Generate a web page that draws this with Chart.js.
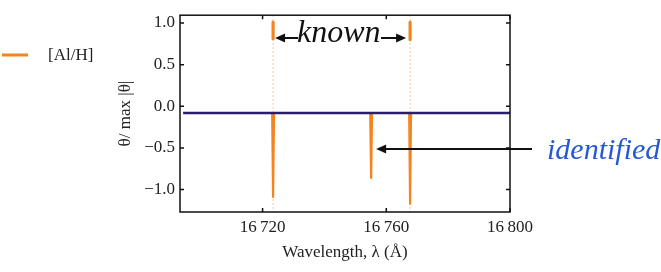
<!DOCTYPE html>
<html>
<head>
<meta charset="utf-8">
<script src="https://cdn.jsdelivr.net/npm/chart.js@4"></script>
<style>
  html, body { margin: 0; padding: 0; background: #fff; }
  #wrap { width: 661px; height: 272px; }
</style>
</head>
<body>
<div id="wrap"><canvas id="chart" width="661" height="272"></canvas></div>
<script>
// axis ranges and ticks
const xRange = [16693.3, 16800];
const yRange = [-1.27, 1.094];
const xTicks = [16720, 16760, 16800];
const xTickLabels = ["16\u2009720", "16\u2009760", "16\u2009800"];
const yTicks = [-1.0, -0.5, 0.0, 0.5, 1.0];
const yTickLabels = ["\u22121.0", "\u22120.5", "0.0", "0.5", "1.0"];

// navy baseline
const baseStart = 16694.3;
const baseLevel = -0.08;

// [Al/H] absorption features (negative dips)
const lineCentres = [16723.4, 16755.1, 16767.7];
const lineDepths = [-1.10, -0.87, -1.18];
const halfWidth = 0.3;

// known lines (positive markers)
const knownCentres = [16723.4, 16767.7];
const knownTops = [1.01, 1.01];
const knownBottoms = [0.81, 0.80];

const orange = "#f5841f";
const navy = "#2a1f6e";

// build the orange series
const spikeData = [];
lineCentres.forEach((c, i) => {
  spikeData.push({ x: c - halfWidth, y: baseLevel });
  spikeData.push({ x: c, y: lineDepths[i] });
  spikeData.push({ x: c + halfWidth, y: baseLevel });
  spikeData.push({ x: c + halfWidth, y: null });
});
const knownData = [];
knownCentres.forEach((c, i) => {
  knownData.push({ x: c, y: knownTops[i] });
  knownData.push({ x: c, y: knownBottoms[i] });
  knownData.push({ x: c, y: null });
});

const dotted = knownCentres.map((c) => ({
  label: "guide",
  data: [{ x: c, y: yRange[1] }, { x: c, y: yRange[0] }],
  borderColor: "rgba(245,132,31,0.6)",
  borderWidth: 1,
  borderDash: [1.5, 2.5],
  pointRadius: 0,
}));

// frame, inward ticks, legend and annotations
const extras = {
  id: "extras",
  afterDatasetsDraw(chart) {
    const { ctx, chartArea: a, scales } = chart;
    const xs = scales.x, ys = scales.y;
    ctx.save();
    ctx.strokeStyle = "#111";
    ctx.lineWidth = 1.5;
    ctx.strokeRect(a.left, a.top, a.right - a.left, a.bottom - a.top);
    ctx.beginPath();
    xTicks.forEach((v) => {
      const px = xs.getPixelForValue(v);
      ctx.moveTo(px, a.bottom); ctx.lineTo(px, a.bottom - 4);
      ctx.moveTo(px, a.top); ctx.lineTo(px, a.top + 4);
    });
    yTicks.forEach((v) => {
      const py = ys.getPixelForValue(v);
      ctx.moveTo(a.left, py); ctx.lineTo(a.left + 4, py);
      ctx.moveTo(a.right, py); ctx.lineTo(a.right - 4, py);
    });
    ctx.stroke();

    // legend
    ctx.strokeStyle = orange;
    ctx.lineWidth = 3;
    ctx.beginPath();
    ctx.moveTo(2, 55); ctx.lineTo(28, 55);
    ctx.stroke();
    ctx.fillStyle = "#222";
    ctx.font = "17px 'Liberation Serif'";
    ctx.textBaseline = "middle";
    ctx.textAlign = "left";
    ctx.fillText(chart.data.datasets[1].label, 48, 56);

    // arrows
    function arrow(x0, y0, x1, y1) {
      const dir = Math.sign(x1 - x0);
      ctx.strokeStyle = "#111";
      ctx.fillStyle = "#111";
      ctx.lineWidth = 2;
      ctx.beginPath();
      ctx.moveTo(x0, y0); ctx.lineTo(x1 - dir * 8, y1);
      ctx.stroke();
      ctx.beginPath();
      ctx.moveTo(x1, y1);
      ctx.lineTo(x1 - dir * 10, y1 - 4.5);
      ctx.lineTo(x1 - dir * 10, y1 + 4.5);
      ctx.closePath();
      ctx.fill();
    }
    const k1 = xs.getPixelForValue(knownCentres[0]);
    const k2 = xs.getPixelForValue(knownCentres[1]);
    const id = xs.getPixelForValue(lineCentres[1]);
    arrow(298, 38, k1 + 2, 38);
    arrow(381, 38, k2 - 4, 38);
    arrow(532, 149, id + 5, 149);

    ctx.fillStyle = "#111";
    ctx.font = "italic 32px 'Liberation Serif'";
    ctx.textAlign = "left";
    ctx.textBaseline = "alphabetic";
    ctx.fillText("known", 297, 42);
    ctx.fillStyle = "#2458d4";
    ctx.font = "italic 30px 'Liberation Serif'";
    ctx.fillText("identified", 547, 159);
    ctx.restore();
  },
};

new Chart(document.getElementById("chart"), {
  type: "line",
  data: {
    datasets: [
      {
        label: "baseline",
        data: [{ x: baseStart, y: baseLevel }, { x: xRange[1], y: baseLevel }],
        borderColor: navy,
        borderWidth: 2.5,
        pointRadius: 0,
      },
      {
        label: "[Al/H]",
        data: spikeData,
        borderColor: orange,
        borderWidth: 2.2,
        pointRadius: 0,
        spanGaps: false,
        borderCapStyle: "butt",
      },
      {
        label: "known",
        data: knownData,
        borderColor: orange,
        borderWidth: 3.2,
        pointRadius: 0,
        spanGaps: false,
        borderCapStyle: "round",
      },
      ...dotted,
    ],
  },
  options: {
    responsive: false,
    animation: false,
    layout: { padding: { left: 115, right: 151, top: 11, bottom: 0 } },
    plugins: { legend: { display: false }, tooltip: { enabled: false } },
    scales: {
      x: {
        type: "linear",
        min: xRange[0],
        max: xRange[1],
        afterBuildTicks: (s) => { s.ticks = xTicks.map((v) => ({ value: v })); },
        afterFit: (s) => { s.height = 60; },
        grid: { display: false, drawTicks: false },
        border: { display: false },
        ticks: {
          padding: 5,
          color: "#222",
          font: { family: "Liberation Serif", size: 17 },
          callback: (v) => xTickLabels[xTicks.indexOf(v)],
          maxRotation: 0,
        },
        title: {
          display: true,
          text: "Wavelength, \u03bb (\u00c5)",
          color: "#222",
          font: { family: "Liberation Serif", size: 17 },
          padding: { bottom: 9 },
        },
      },
      y: {
        min: yRange[0],
        max: yRange[1],
        afterBuildTicks: (s) => { s.ticks = yTicks.map((v) => ({ value: v })); },
        afterFit: (s) => { s.width = 65; },
        grid: { display: false, drawTicks: false },
        border: { display: false },
        ticks: {
          padding: 5,
          color: "#222",
          font: { family: "Liberation Serif", size: 17 },
          callback: (v) => yTickLabels[yTicks.indexOf(v)],
        },
        title: {
          display: true,
          text: "\u03b8/ max |\u03b8|",
          color: "#222",
          font: { family: "Liberation Serif", size: 17 },
          padding: { top: 0 },
        },
      },
    },
  },
  plugins: [extras],
});
</script>
</body>
</html>
